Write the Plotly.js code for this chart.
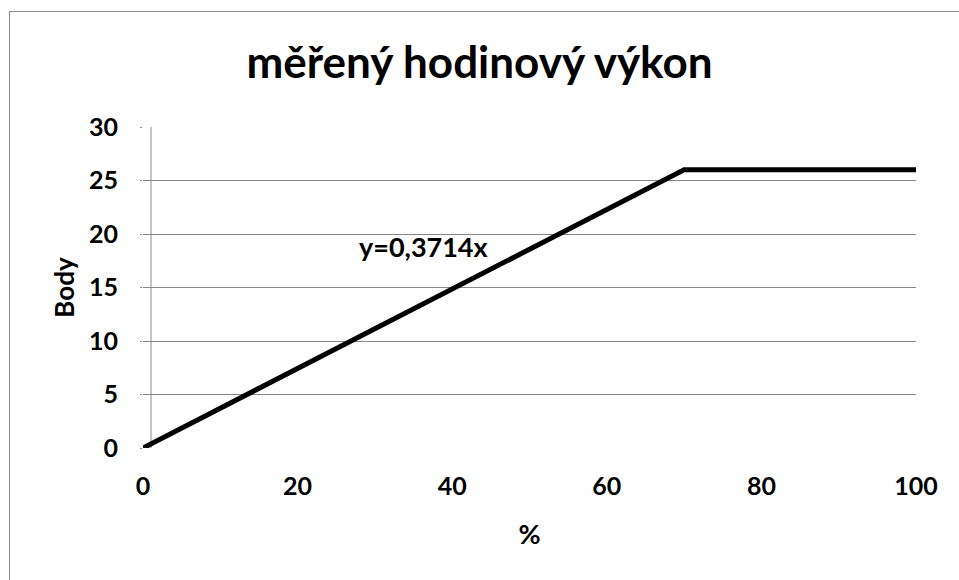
<!DOCTYPE html>
<html>
<head>
<meta charset="utf-8">
<script src="https://cdn.plot.ly/plotly-3.0.1.min.js"></script>
<style>
html,body{margin:0;padding:0;overflow:hidden;background:#fff;}
#wrap{position:relative;width:959px;height:580px;overflow:hidden;}
#chart{position:absolute;left:0;top:0;width:959px;height:580px;}
#frame{position:absolute;left:9px;top:11px;width:1000px;height:1000px;border:1px solid #8c8c8c;pointer-events:none;}
</style>
</head>
<body>
<div id="wrap"><div id="chart"></div><div id="frame"></div></div>
<script>
var percent = [0, 70, 100];
var points = [0, 26, 26];
var xTicks = [0, 20, 40, 60, 80, 100];
var yTicks = [0, 5, 10, 15, 20, 25, 30];
var chartTitle = "měřený hodinový výkon";
var xTitle = "%";
var yTitle = "Body";
var equationLabel = "y=0,3714x";
var equationPos = [36.4, 18.8];

var FONT = "Lato, 'Open Sans', sans-serif";
var grid = "#888888";

var trace = {
  x: percent, y: points, type: "scatter", mode: "lines",
  line: {color: "#000000", width: 5},
  hoverinfo: "skip", showlegend: false
};

var layout = {
  width: 959, height: 580,
  margin: {l: 143, r: 43, t: 127, b: 132, pad: 0},
  paper_bgcolor: "#ffffff", plot_bgcolor: "#ffffff",
  font: {family: FONT, color: "#000000"},
  title: {
    text: chartTitle,
    font: {family: FONT, size: 44, color: "#000000", weight: "bold"},
    x: 0.5, xanchor: "center", xref: "container",
    y: 1 - 63/580, yanchor: "middle", yref: "container"
  },
  xaxis: {
    range: [0, 100], tickvals: xTicks, ticktext: xTicks.map(String),
    showgrid: false, zeroline: false, showline: false, ticks: "",
    tickfont: {family: FONT, size: 25, color: "#000000", weight: "bold"},
    ticklabelstandoff: 21,
    title: {text: xTitle, font: {family: FONT, size: 27, color: "#000000", weight: "bold"}, standoff: 26},
    fixedrange: true
  },
  yaxis: {
    range: [0, 30], tickvals: yTicks, ticktext: yTicks.map(String),
    showgrid: true, gridcolor: grid, gridwidth: 1,
    zeroline: false, showline: false,
    ticks: "outside", ticklen: 2, tickcolor: grid,
    tickfont: {family: FONT, size: 25, color: "#000000", weight: "bold"},
    ticklabelstandoff: 17,
    title: {text: yTitle, font: {family: FONT, size: 26, color: "#000000", weight: "bold"}, standoff: 6},
    fixedrange: true
  },
  shapes: [{
    type: "line", xref: "paper", yref: "paper",
    x0: 8/773, x1: 8/773, y0: 0, y1: 1,
    line: {color: grid, width: 1}, layer: "below"
  }],
  annotations: [{
    x: equationPos[0], y: equationPos[1], xref: "x", yref: "y",
    text: equationLabel, showarrow: false,
    font: {family: FONT, size: 27, color: "#000000", weight: "bold"},
    xanchor: "center", yanchor: "middle"
  }]
};

Plotly.newPlot("chart", [trace], layout, {displayModeBar: false, staticPlot: true});
</script>
</body>
</html>
